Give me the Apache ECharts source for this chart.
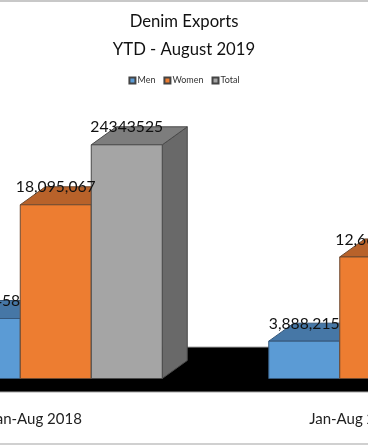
<!DOCTYPE html>
<html>
<head>
<meta charset="utf-8">
<style>html,body{margin:0;padding:0;background:#fff;overflow:hidden}#main{width:368px;height:445px}</style>
<script src="https://cdn.jsdelivr.net/npm/echarts@6/dist/echarts.min.js"></script>
</head>
<body>
<div id="main"></div>
<script>
var categories = ['Jan-Aug 2018', 'Jan-Aug 2019'];
var men = [6248458, 3888215];
var women = [18095067, 12660000];
var total = [24343525, 16548215];
var menLabels = ['6,248,458', '3,888,215'];
var womenLabels = ['18,095,067', '12,660,000'];
var totalLabels = ['24343525', '16548215'];

var depthX = 25, depthY = 18;      // 3d look of the bars
var shiftX = 20;                   // bars sit right of the axis label
var barShare = 71 / 319.5;

var myChart = echarts.init(document.getElementById('main'));

function barRender(slot, color, labels) {
    return function (params, api) {
        var cat = api.value(0), val = api.value(1);
        var w = api.size([1, 0])[0] * barShare;
        var base = api.coord([cat, 0]);
        var top = api.coord([cat, val]);
        var x = base[0] + shiftX + (slot - 1.5) * w;
        var y0 = base[1], y1 = top[1];
        var x2 = x + w;
        var line = { stroke: color.line, lineWidth: 1 };
        return {
            type: 'group',
            children: [
                { type: 'polygon', z2: slot * 3 + 1, shape: { points: [[x2, y1], [x2 + depthX, y1 - depthY], [x2 + depthX, y0 - depthY], [x2, y0]] },
                  style: Object.assign({ fill: color.side }, line) },
                { type: 'polygon', z2: slot * 3 + 2, shape: { points: [[x, y1], [x + depthX, y1 - depthY], [x2 + depthX, y1 - depthY], [x2, y1]] },
                  style: Object.assign({ fill: color.top }, line) },
                { type: 'rect', z2: slot * 3 + 3, shape: { x: x, y: y1, width: w, height: y0 - y1 },
                  style: Object.assign({ fill: color.face }, line) },
                { type: 'text', z2: 100, style: { x: x + w / 2, y: y1 - 17.5, text: labels[cat], fill: '#111',
                  font: '15.7px Lato', align: 'center', verticalAlign: 'middle' } }
            ]
        };
    };
}

function floorRender(params, api) {
    var sys = params.coordSys;
    var base = api.coord([0, 0]);
    var y = base[1];
    return {
        type: 'group',
        children: [
            { type: 'polygon', z2: -2, shape: { points: [[sys.x, y + 13.5], [sys.x, y], [sys.x + 32, y - 31.5], [sys.x + sys.width, y - 31.5], [sys.x + sys.width, y + 13.5]] },
              style: { fill: '#000', stroke: '#a6a6a6', lineWidth: 1 } }
        ]
    };
}

function barSeries(name, slot, values, color, labels) {
    return {
        name: name,
        type: 'custom',
        itemStyle: { color: color.face, borderColor: '#444', borderWidth: 1 },
        renderItem: barRender(slot, color, labels),
        encode: { x: 0, y: 1 },
        data: values.map(function (v, i) { return [i, v]; }),
        clip: false
    };
}

var option = {
    animation: false,
    title: [
        { text: 'Denim Exports', left: 'center', top: 8, textStyle: { color: '#111', fontFamily: 'Lato', fontSize: 16.7, fontWeight: 'normal' } },
        { text: 'YTD - August 2019', left: 'center', top: 36, textStyle: { color: '#111', fontFamily: 'Lato', fontSize: 16.7, fontWeight: 'normal' } }
    ],
    legend: {
        data: ['Men', 'Women', 'Total'],
        top: 71,
        left: 'center',
        icon: 'rect',
        itemWidth: 6,
        itemHeight: 6,
        itemGap: 8,
        textStyle: { fontFamily: 'Lato', fontSize: 9, color: '#333', padding: [0, 0, 0, -3] }
    },
    grid: { left: -124, top: 138.5, width: 639, height: 240, outerBoundsMode: 'none', containLabel: false },
    xAxis: {
        type: 'category',
        data: categories,
        axisLine: { show: false },
        axisTick: { show: false },
        axisLabel: { color: '#222', fontFamily: 'Lato', fontSize: 15, margin: 33 }
    },
    yAxis: { type: 'value', min: 0, max: 25000000, show: false },
    graphic: [
        { type: 'rect', shape: { x: 0, y: 0, width: 368, height: 2 }, style: { fill: '#c8c8c8' } },
        { type: 'rect', shape: { x: 0, y: 443, width: 368, height: 2 }, style: { fill: '#d0d0d0' } }
    ],
    series: [
        { type: 'custom', silent: true, renderItem: floorRender, data: [[0, 0]], encode: { x: 0, y: 1 }, clip: false, z: 1 },
        barSeries('Men', 0, men, { face: '#5b9bd5', top: '#4677a6', side: '#3b6690', line: '#35587c' }, menLabels),
        barSeries('Women', 1, women, { face: '#ed7d31', top: '#b8622a', side: '#9c5424', line: '#6e4a30' }, womenLabels),
        barSeries('Total', 2, total, { face: '#a5a5a5', top: '#7d7d7d', side: '#696969', line: '#4a4a4a' }, totalLabels)
    ]
};
myChart.setOption(option);
</script>
</body>
</html>
